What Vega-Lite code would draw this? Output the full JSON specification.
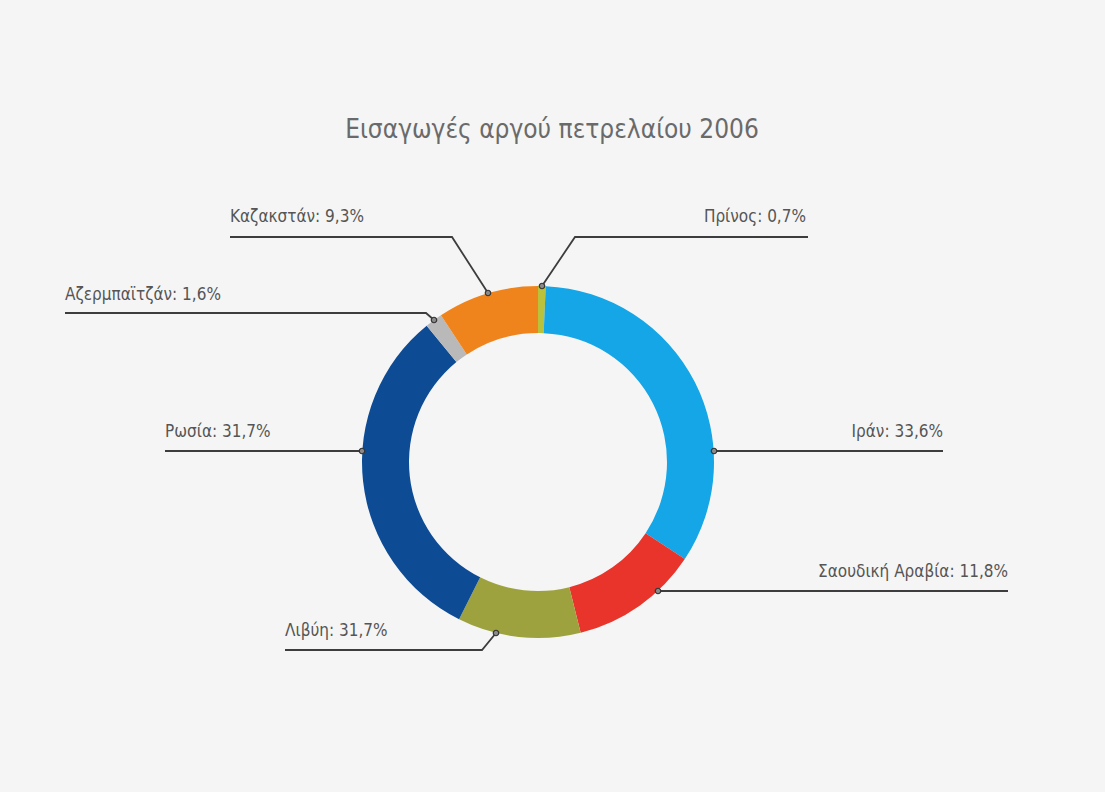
{
  "$schema": "https://vega.github.io/schema/vega-lite/v6.json",
  "autosize": {"type": "none"},
  "padding": {"left": 0, "top": 132, "right": 29, "bottom": 0},
  "width": 1076,
  "height": 660,
  "background": "#f5f5f5",
  "config": {"view": {"stroke": null}},
  "title": {
    "text": "Εισαγωγές αργού πετρελαίου 2006",
    "font": "DejaVu Sans Condensed",
    "fontSize": 26,
    "fontWeight": "normal",
    "color": "#6a6a6a",
    "anchor": "middle",
    "baseline": "alphabetic",
    "offset": -32,
    "dx": 14
  },
  "datasets": {
    "slices": [
      {"country": "Πρίνος", "share": 0.7, "order": 1},
      {"country": "Ιράν", "share": 33.6, "order": 2},
      {"country": "Σαουδική Αραβία", "share": 11.8, "order": 3},
      {"country": "Λιβύη", "share": 11.3, "order": 4},
      {"country": "Ρωσία", "share": 31.7, "order": 5},
      {"country": "Αζερμπαϊτζάν", "share": 1.6, "order": 6},
      {"country": "Καζακστάν", "share": 9.3, "order": 7}
    ],
    "leaders": [
      {"country": "Καζακστάν", "seq": 1, "X": -308, "Y": 225},
      {"country": "Καζακστάν", "seq": 2, "X": -86, "Y": 225},
      {"country": "Καζακστάν", "seq": 3, "X": -50, "Y": 169},
      {"country": "Πρίνος", "seq": 1, "X": 270, "Y": 225},
      {"country": "Πρίνος", "seq": 2, "X": 37, "Y": 225},
      {"country": "Πρίνος", "seq": 3, "X": 4, "Y": 176},
      {"country": "Αζερμπαϊτζάν", "seq": 1, "X": -473, "Y": 149},
      {"country": "Αζερμπαϊτζάν", "seq": 2, "X": -112, "Y": 149},
      {"country": "Αζερμπαϊτζάν", "seq": 3, "X": -104, "Y": 142},
      {"country": "Ρωσία", "seq": 1, "X": -373, "Y": 11},
      {"country": "Ρωσία", "seq": 2, "X": -176, "Y": 11},
      {"country": "Ιράν", "seq": 1, "X": 405, "Y": 11},
      {"country": "Ιράν", "seq": 2, "X": 176, "Y": 11},
      {"country": "Σαουδική Αραβία", "seq": 1, "X": 470, "Y": -129},
      {"country": "Σαουδική Αραβία", "seq": 2, "X": 120, "Y": -129},
      {"country": "Λιβύη", "seq": 1, "X": -253, "Y": -188},
      {"country": "Λιβύη", "seq": 2, "X": -56, "Y": -188},
      {"country": "Λιβύη", "seq": 3, "X": -42, "Y": -171}
    ],
    "dots": [
      {"country": "Καζακστάν", "X": -50, "Y": 169},
      {"country": "Πρίνος", "X": 4, "Y": 176},
      {"country": "Αζερμπαϊτζάν", "X": -104, "Y": 142},
      {"country": "Ρωσία", "X": -176, "Y": 11},
      {"country": "Ιράν", "X": 176, "Y": 11},
      {"country": "Σαουδική Αραβία", "X": 120, "Y": -129},
      {"country": "Λιβύη", "X": -42, "Y": -171}
    ],
    "labelsLeft": [
      {"label": "Καζακστάν: 9,3%", "X": -308, "Y": 240},
      {"label": "Αζερμπαϊτζάν: 1,6%", "X": -473, "Y": 162},
      {"label": "Ρωσία: 31,7%", "X": -373, "Y": 25},
      {"label": "Λιβύη: 31,7%", "X": -253, "Y": -174}
    ],
    "labelsRight": [
      {"label": "Πρίνος: 0,7%", "X": 268, "Y": 240},
      {"label": "Ιράν: 33,6%", "X": 405, "Y": 25},
      {"label": "Σαουδική Αραβία: 11,8%", "X": 470, "Y": -115}
    ]
  },
  "layer": [
    {
      "data": {"name": "slices"},
      "mark": {"type": "arc", "outerRadius": 176, "innerRadius": 129},
      "encoding": {
        "theta": {"field": "share", "type": "quantitative", "stack": true},
        "order": {"field": "order", "type": "quantitative"},
        "color": {
          "field": "country",
          "type": "nominal",
          "legend": null,
          "scale": {
            "domain": ["Πρίνος", "Ιράν", "Σαουδική Αραβία", "Λιβύη", "Ρωσία", "Αζερμπαϊτζάν", "Καζακστάν"],
            "range": ["#b9c23a", "#14a6e6", "#e8342a", "#9da23e", "#0d4c94", "#b9b9b9", "#f0841c"]
          }
        }
      }
    },
    {
      "data": {"name": "leaders"},
      "mark": {"type": "line", "color": "#3d3d3d", "strokeWidth": 1.8},
      "encoding": {
        "x": {"field": "X", "type": "quantitative", "scale": {"domain": [-538, 538], "nice": false, "zero": false}, "axis": null},
        "y": {"field": "Y", "type": "quantitative", "scale": {"domain": [-330, 330], "nice": false, "zero": false}, "axis": null},
        "detail": {"field": "country"},
        "order": {"field": "seq", "type": "quantitative"}
      }
    },
    {
      "data": {"name": "dots"},
      "mark": {"type": "point", "filled": true, "fill": "#8a8a8a", "stroke": "#333333", "strokeWidth": 1.2, "size": 30, "opacity": 1},
      "encoding": {
        "x": {"field": "X", "type": "quantitative"},
        "y": {"field": "Y", "type": "quantitative"}
      }
    },
    {
      "data": {"name": "labelsLeft"},
      "mark": {"type": "text", "align": "left", "baseline": "alphabetic", "font": "DejaVu Sans Condensed", "fontSize": 17, "color": "#555555"},
      "encoding": {
        "x": {"field": "X", "type": "quantitative"},
        "y": {"field": "Y", "type": "quantitative"},
        "text": {"field": "label"}
      }
    },
    {
      "data": {"name": "labelsRight"},
      "mark": {"type": "text", "align": "right", "baseline": "alphabetic", "font": "DejaVu Sans Condensed", "fontSize": 17, "color": "#555555"},
      "encoding": {
        "x": {"field": "X", "type": "quantitative"},
        "y": {"field": "Y", "type": "quantitative"},
        "text": {"field": "label"}
      }
    }
  ]
}
